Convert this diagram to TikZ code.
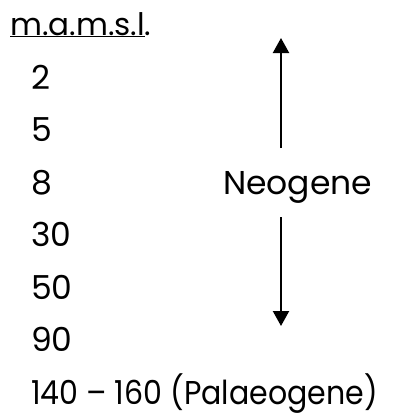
\documentclass[tikz,border=0pt]{standalone}
\usepackage{fontspec}
\setmainfont{Poppins}
\usetikzlibrary{arrows.meta}
\begin{document}
\begin{tikzpicture}[x=1pt,y=-1pt,
    elev/.style={anchor=base west,inner sep=0pt,font=\fontsize{33}{33}\selectfont},
    arr/.style={line width=2.2pt,-{Triangle[width=16pt,length=15pt]}}]
    \useasboundingbox (0,0) rectangle (397,415);
    % HEADING
    \node[anchor=base west,inner sep=0pt,font=\fontsize{31}{31}\selectfont] (head) at (10,35) {\underline{m.a.m.s.l}.};

    % HEIGHTS
    \foreach \v [count=\i] in {2,5,8,30,50,90} {
        \node[elev] (h\i) at (31,{89+52.5*(\i-1)}) {\v};
    }
    \node[elev] (h7) at (31,404) {\addfontfeature{FakeStretch=0.91}140 – 160 (Palaeogene)};

    % NEOGENE SPAN
    \node[elev] (neo) at (223,194) {Neogene};
    \coordinate (upfoot) at (281,148);
    \coordinate (uptip) at (281,38);
    \coordinate (downfoot) at (281,217);
    \coordinate (downtip) at (281,326);
    \draw[arr] (upfoot) -- (uptip);
    \draw[arr] (downfoot) -- (downtip);
\end{tikzpicture}
\end{document}
